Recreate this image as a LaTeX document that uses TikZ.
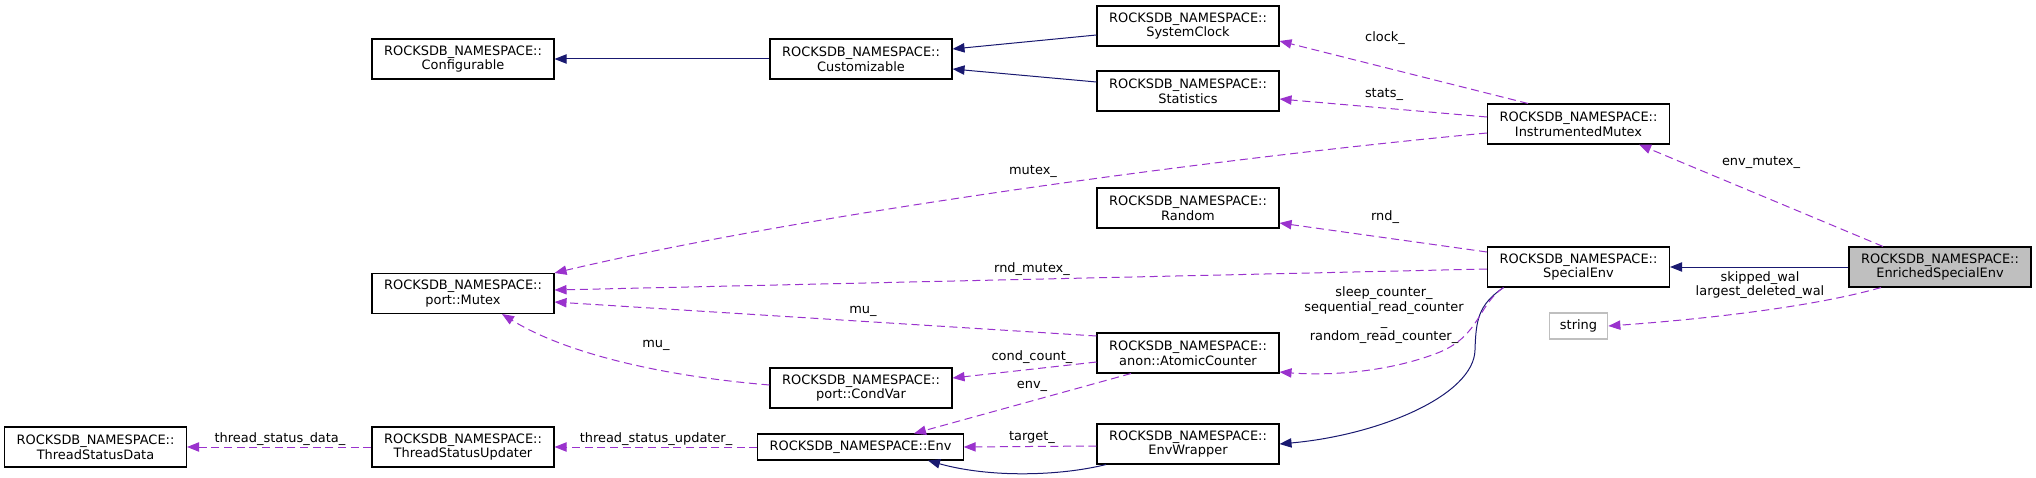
\documentclass[tikz,border=0pt]{standalone}
\usepackage{fontspec}
\setmainfont{DejaVu Sans}
\usetikzlibrary{arrows.meta,calc}
\definecolor{navyedge}{HTML}{191970}
\definecolor{memberedge}{HTML}{9A32CD}
\definecolor{focusgray}{HTML}{BFBFBF}
\begin{document}
\begin{tikzpicture}[x=0.75pt,y=-0.75pt,
  font=\fontsize{9.7}{11}\selectfont,
  cls/.style={draw=black,line width=0.8pt,align=center,minimum width=136.5pt,minimum height=30pt,inner sep=0pt},
  single/.style={draw=black,line width=0.8pt,minimum height=19.5pt,inner sep=0pt},
  inh/.style={navyedge,line width=0.75pt,-{Triangle[length=9pt,width=7pt]}},
  use/.style={memberedge,line width=0.75pt,dash pattern=on 6pt off 3.5pt,-{Triangle[length=9pt,width=7pt]}},
  lbl/.style={align=center,inner sep=0pt}]
\useasboundingbox (0,0) rectangle (2036,478);

\node[cls] (conf) at (463,59) {ROCKSDB\_NAMESPACE::\\Configurable};
\node[cls] (cust) at (861,59) {ROCKSDB\_NAMESPACE::\\Customizable};
\node[cls] (clk) at (1188,26) {ROCKSDB\_NAMESPACE::\\SystemClock};
\node[cls] (stat) at (1188,91) {ROCKSDB\_NAMESPACE::\\Statistics};
\node[cls] (rand) at (1188,208) {ROCKSDB\_NAMESPACE::\\Random};
\node[cls] (imu) at (1578.5,124) {ROCKSDB\_NAMESPACE::\\InstrumentedMutex};
\node[cls] (spe) at (1578.5,267) {ROCKSDB\_NAMESPACE::\\SpecialEnv};
\node[cls,fill=focusgray] (ese) at (1940,267) {ROCKSDB\_NAMESPACE::\\EnrichedSpecialEnv};
\node[single,draw=focusgray,minimum width=44pt] (str) at (1578.5,326) {string};
\node[cls] (pmu) at (463,293.5) {ROCKSDB\_NAMESPACE::\\port::Mutex};
\node[cls] (atc) at (1188,353) {ROCKSDB\_NAMESPACE::\\anon::AtomicCounter};
\node[cls] (cv) at (861,388) {ROCKSDB\_NAMESPACE::\\port::CondVar};
\node[cls] (envw) at (1188,444) {ROCKSDB\_NAMESPACE::\\EnvWrapper};
\node[single,minimum width=154pt] (env) at (860.5,447) {ROCKSDB\_NAMESPACE::Env};
\node[cls] (tsu) at (463,447) {ROCKSDB\_NAMESPACE::\\ThreadStatusUpdater};
\node[cls] (tsd) at (95.5,447) {ROCKSDB\_NAMESPACE::\\ThreadStatusData};

\draw[inh] (cust.west) -- (conf.east);
\draw[inh] ($(clk.west)+(0,9)$) -- ($(cust.east)+(0,-10)$);
\draw[inh] ($(stat.west)+(0,-9)$) -- ($(cust.east)+(0,10)$);
\draw[inh] (ese.west) -- (spe.east);
\draw[inh] ($(spe.south)+(-75,0)$) .. controls (1478,305) and (1476,320) .. (1475,350)
  .. controls (1474,395) and (1380,435) .. (envw.east);
\draw[inh] ($(envw.south)+(-82,0)$) .. controls (1060,476) and (990,478) .. ($(env.south)+(67.5,0)$);

\draw[use] ($(imu.north)+(-50.5,0)$) -- ($(clk.east)+(0,15)$);
\draw[use] ($(imu.west)+(0,-7)$) -- ($(stat.east)+(0,8)$);
\draw[use] ($(imu.west)+(0,9)$) .. controls (1200,160) and (800,215) .. (pmu.north east);
\draw[use] ($(ese.north)+(-57,0)$) -- ($(imu.south)+(60.5,0)$);
\draw[use] ($(spe.west)+(0,-15)$) -- ($(rand.east)+(0,15)$);
\draw[use] ($(spe.west)+(0,2)$) -- ($(pmu.east)+(0,-3.5)$);
\draw[use] ($(ese.south)+(-59,0)$) .. controls (1820,305) and (1720,318) .. (str.east);
\draw[use] ($(spe.south)+(-75,0)$) .. controls (1478,305) and (1480,335) .. (1440,352)
  .. controls (1390,372) and (1330,376) .. ($(atc.east)+(0,19)$);
\draw[use] ($(atc.west)+(0,-17)$) -- ($(pmu.east)+(0,8.5)$);
\draw[use] ($(atc.west)+(0,9)$) -- ($(cv.east)+(0,-10)$);
\draw[use] ($(atc.south)+(-57,0)$) -- ($(env.north)+(53.5,0)$);
\draw[use] ($(cv.west)+(0,-3)$) .. controls (650,375) and (560,350) .. ($(pmu.south)+(39,0)$);
\draw[use] ($(envw.west)+(0,2)$) -- (env.east);
\draw[use] (env.west) -- (tsu.east);
\draw[use] (tsu.west) -- (tsd.east);

\node[lbl] (lclk) at (1385,38) {clock\_};
\node[lbl] (lstat) at (1384,94) {stats\_};
\node[lbl] (lmutex) at (1033,171) {mutex\_};
\node[lbl] (lenvmu) at (1761,162) {env\_mutex\_};
\node[lbl] (lrnd) at (1385,217) {rnd\_};
\node[lbl] (lrndmu) at (1032,269) {rnd\_mutex\_};
\node[lbl] (lwal) at (1760,285) {skipped\_wal\\largest\_deleted\_wal};
\node[lbl] (lcnt) at (1384,315) {sleep\_counter\_\\sequential\_read\_counter\\\_\\random\_read\_counter\_};
\node[lbl] (lmuup) at (863,311) {mu\_};
\node[lbl] (lcond) at (1032,357) {cond\_count\_};
\node[lbl] (lenv) at (1032,386) {env\_};
\node[lbl] (lmulow) at (656,345) {mu\_};
\node[lbl] (ltarget) at (1032,437) {target\_};
\node[lbl] (ltsd) at (280,439) {thread\_status\_data\_};
\node[lbl] (ltsu) at (656,439) {thread\_status\_updater\_};
\end{tikzpicture}
\end{document}
